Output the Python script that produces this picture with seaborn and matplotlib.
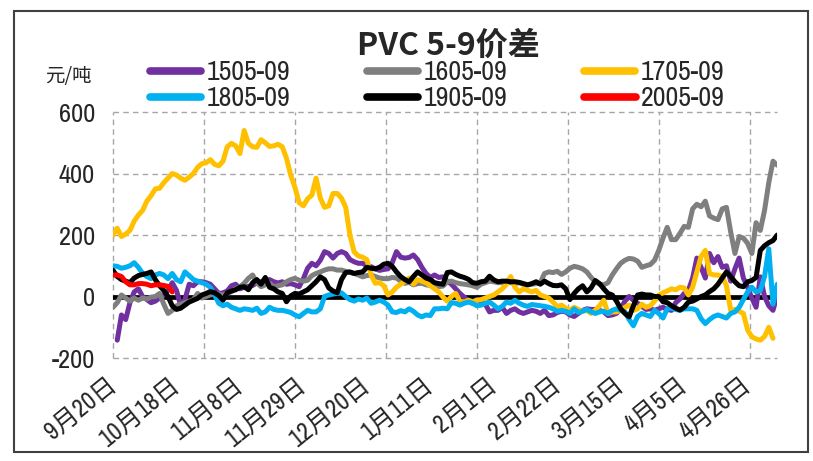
import numpy as np
import pandas as pd
import matplotlib
matplotlib.use('Agg')
import matplotlib.pyplot as plt
import seaborn as sns
from matplotlib.lines import Line2D
from matplotlib.patches import Rectangle

# 数据（按交易日序号，从图上读取）
s1505 = [np.nan, -142, -60, -75, -20, 15, 25, 0, -10, -20, -15, -5, 5, 20, 45, 20, -30, -10, 40, 35, 48, 48, 45, 40, 25, 10, 12,
         18, 35, 40, 25, 30, 33, 36, 45, 48, 52, 55, 48, 44, 48, 40, 42, 38, 32, 58, 92, 108, 100, 118, 146, 140, 125,
         140, 146, 140, 120, 113, 108, 108, 100, 97, 90, 85, 88, 90, 110, 146, 128, 125, 127, 135, 120, 95, 75, 62, 70, 62, 64,
         50, 40, 25, 10, -2, -15, -22, -10, -15, -25, -50, -45, -45, -35, -55, -45, -40, -50, -55, -50, -45, -48, -55, -45, -62, -60,
         -52, -48, -50, -60, -65, -55, -45, -40, -42, -42, -45, -50, -62, -60, -55, -40, -15, 0, -12, -22, -32, -42, -40, -45, -40, -35,
         -42, -45, -20, -8, 10, 20, 60, 125, 95, 60, 140, 110, 130, 95, 100, 50, 90, 125, 60, 30, -5, -35, 64, 0, -30, -45, 5]
s1605 = [-35, -20, 5, -5, -15, -5, -12, -5, -8, -2, 0, 10, -25, -55, -45, -30, -25, -20, -15, -10, 10, -5, 0, 5, 10, 8, 5,
         10, 16, 25, 32, 43, 59, 70, 45, 32, 38, 43, 32, 35, 38, 48, 55, 59, 53, 50, 53, 68, 75, 80, 86, 90, 90,
         86, 86, 82, 78, 75, 70, 64, 68, 70, 65, 60, 58, 58, 62, 60, 50, 43, 46, 38, 42, 43, 38, 36, 32, 32, 34,
         48, 50, 45, 42, 40, 38, 35, 30, 40, 45, 50, 48, 45, 45, 48, 45, 42, 45, 40, 38, 40, 42, 45, 75, 80, 78,
         82, 72, 80, 92, 98, 95, 90, 80, 62, 48, 40, 38, 45, 70, 90, 108, 118, 124, 122, 115, 95, 100, 104, 118, 150, 190,
         225, 185, 185, 205, 228, 225, 285, 300, 292, 310, 262, 255, 250, 285, 290, 210, 140, 195, 190, 173, 140, 240, 215, 280, 370, 440, 427]
s1705 = [200, 222, 195, 203, 215, 245, 265, 280, 310, 328, 350, 352, 370, 385, 400, 395, 385, 378, 388, 400, 420, 432, 435, 445, 430, 425, 440,
         487, 498, 490, 465, 540, 498, 487, 485, 510, 500, 488, 490, 495, 487, 450, 395, 355, 305, 295, 318, 330, 385, 320, 290, 295, 335,
         335, 320, 290, 200, 145, 132, 128, 120, 70, 43, 45, 35, 5, 15, 30, 40, 50, 60, 40, 55, 50, 45, 35, 25, 15, -2,
         -15, 0, 10, -15, -18, -12, -17, -12, -10, -5, 0, 5, 15, 25, 40, 65, 30, 15, 25, 20, 15, 20, 5, 0, -5, -18,
         -33, -28, -38, -44, -35, -42, -48, -45, -55, -45, -30, -12, -55, -50, -50, -45, -35, -28, -45, -40, -25, -35, -30, -15, 5, 12,
         18, 25, 22, 30, 28, 5, 30, 80, 130, 150, 75, 70, 70, 65, 35, -45, -42, -48, -55, -109, -131, -138, -142, -130, -100, -136]
s1805 = [100, 98, 92, 95, 100, 110, 95, 75, 65, 58, 70, 75, 70, 58, 75, 55, 48, 80, 68, 55, 50, 45, 40, 30, 5, -22, -30,
         -25, -35, -40, -45, -40, -42, -45, -38, -55, -50, -35, -42, -45, -45, -48, -52, -60, -66, -55, -45, -50, -50, -40, 0, 5, 8,
         10, 12, 0, -10, -15, -8, -12, -5, -22, -18, -12, -18, -28, -50, -52, -46, -50, -40, -48, -60, -66, -60, -62, -40, -40, -38,
         -40, -20, -22, -28, -22, -18, -22, -30, -28, -22, -18, -28, -40, -32, -18, -22, -12, -22, -28, -32, -26, -28, -30, -32, -35, -40,
         -48, -45, -48, -55, -40, -52, -48, -42, -50, -55, -50, -48, -55, -45, -40, -45, -50, -75, -95, -65, -55, -60, -65, -45, -55, -70,
         -40, -38, -42, -45, -40, -40, -40, -45, -72, -88, -75, -65, -60, -65, -70, -55, -50, -35, -10, 15, 30, 15, 20, 65, 155, -25, 40]
s1905 = [85, 65, 55, 50, 45, 60, 68, 72, 75, 80, 55, 35, 20, 0, -30, -42, -38, -28, -18, -12, -6, 5, 10, 16, 12, 3, -12,
         12, 18, 22, 30, 32, 22, 45, 55, 40, 62, 30, 25, 15, 10, -17, 2, 10, 8, 15, 22, 35, 48, 64, 55, 28, 18,
         12, 55, 78, 80, 75, 78, 80, 95, 92, 90, 95, 105, 108, 98, 80, 65, 55, 48, 65, 80, 70, 60, 55, 45, 42, 40,
         78, 80, 72, 66, 62, 56, 45, 43, 48, 50, 66, 54, 48, 50, 50, 48, 48, 46, 42, 38, 42, 48, 40, 50, 42, 36,
         35, 38, 25, -10, 10, 25, 35, 15, 28, 52, 42, 25, 10, 5, -15, -40, -55, -66, -30, 5, 8, 5, 5, 0, 0, -17,
         -20, -30, -38, -44, -35, -18, -15, -8, 0, 5, 16, 25, 40, 60, 80, 65, 48, 35, 32, 48, 52, 62, 150, 165, 175, 182, 200]
s2005 = [70, 70, 65, 48, 38, 38, 42, 42, 40, 35, 38, 38, 36, 33, 15]

series_names = ['1505-09', '1605-09', '1705-09', '1805-09', '1905-09', '2005-09']
series_vals = [s1505, s1605, s1705, s1805, s1905, s2005]
colors = ['#7030A0', '#7F7F7F', '#FFC000', '#00B0F0', '#000000', '#FF0000']

x_labels = ['9月20日', '10月18日', '11月8日', '11月29日', '12月20日', '1月11日',
            '2月1日', '2月22日', '3月15日', '4月5日', '4月26日']
y_ticks = [-200, 0, 200, 400, 600]

frames = []
for name, vals in zip(series_names, series_vals):
    frames.append(pd.DataFrame({'idx': np.arange(len(vals)), 'value': vals, 'series': name}))
df = pd.concat(frames, ignore_index=True).dropna()

sns.set_style('white')
fonts = ['Archivo Narrow', 'Noto Sans CJK SC', 'DejaVu Sans']
plt.rcParams['font.family'] = fonts
plt.rcParams['axes.unicode_minus'] = False

fig, ax = plt.subplots(figsize=(8.13, 4.61), dpi=100)
fig.subplots_adjust(left=0.139, right=0.956, bottom=0.2234, top=0.757)

palette = dict(zip(series_names, colors))
sns.lineplot(data=df, x='idx', y='value', hue='series', hue_order=series_names,
             palette=palette, linewidth=3.6, estimator=None, sort=False,
             legend=False, ax=ax, zorder=3)

# 零轴
ax.axhline(0, color='black', lw=3.4, zorder=2)

ax.set_xlim(0, 157)
ax.set_ylim(-200, 600)
for s in ax.spines.values():
    s.set_visible(False)

# 网格
grid_kw = dict(color='#A6A6A6', lw=1.0, ls=(0, (4, 3)), zorder=1, clip_on=False)
for y in y_ticks:
    if y != 0:
        ax.axhline(y, **grid_kw)
for gx in np.arange(0, 157, 21.5):
    ax.axvline(gx, **grid_kw)

ax.set_xticks(np.arange(0, 151, 15))
ax.set_xticklabels(x_labels, rotation=39, ha='right', va='center',
                   rotation_mode='anchor', fontsize=18)
ax.set_yticks(y_ticks)
ax.set_yticklabels([str(v) for v in y_ticks], fontsize=19)
ax.tick_params(axis='both', length=0)
ax.tick_params(axis='y', pad=13)
ax.tick_params(axis='x', pad=17)
ax.set_xlabel('')
ax.set_ylabel('')

fig.text(0.551, 0.9, 'PVC 5-9价差', ha='center', va='center', fontsize=23,
         fontweight='bold', family=['Noto Sans CJK SC', 'DejaVu Sans'])
fig.text(0.084, 0.833, '元/吨', ha='center', va='center', fontsize=14,
         family=['Noto Sans CJK SC', 'DejaVu Sans'])

# 图例分两行：1505/1605/1705 与 1805/1905/2005
for row, yc in enumerate([73, 99]):
    ks = [row * 3 + c for c in range(3)]
    handles = [Line2D([0], [0], color=colors[k], lw=5.5, solid_capstyle='round') for k in ks]
    leg = fig.legend(handles, [series_names[k] for k in ks], ncol=3, loc='center left',
                     bbox_to_anchor=(150 / 813, 1 - yc / 461), frameon=False, fontsize=20,
                     handlelength=1.85, handletextpad=0.2, columnspacing=2.75,
                     borderaxespad=0, borderpad=0)

fig.patches.append(Rectangle((14 / 813, 9 / 461), 794 / 813, 441 / 461, transform=fig.transFigure,
                             fill=False, edgecolor='#404040', lw=1.5))

fig.savefig('out.png', dpi=100)
